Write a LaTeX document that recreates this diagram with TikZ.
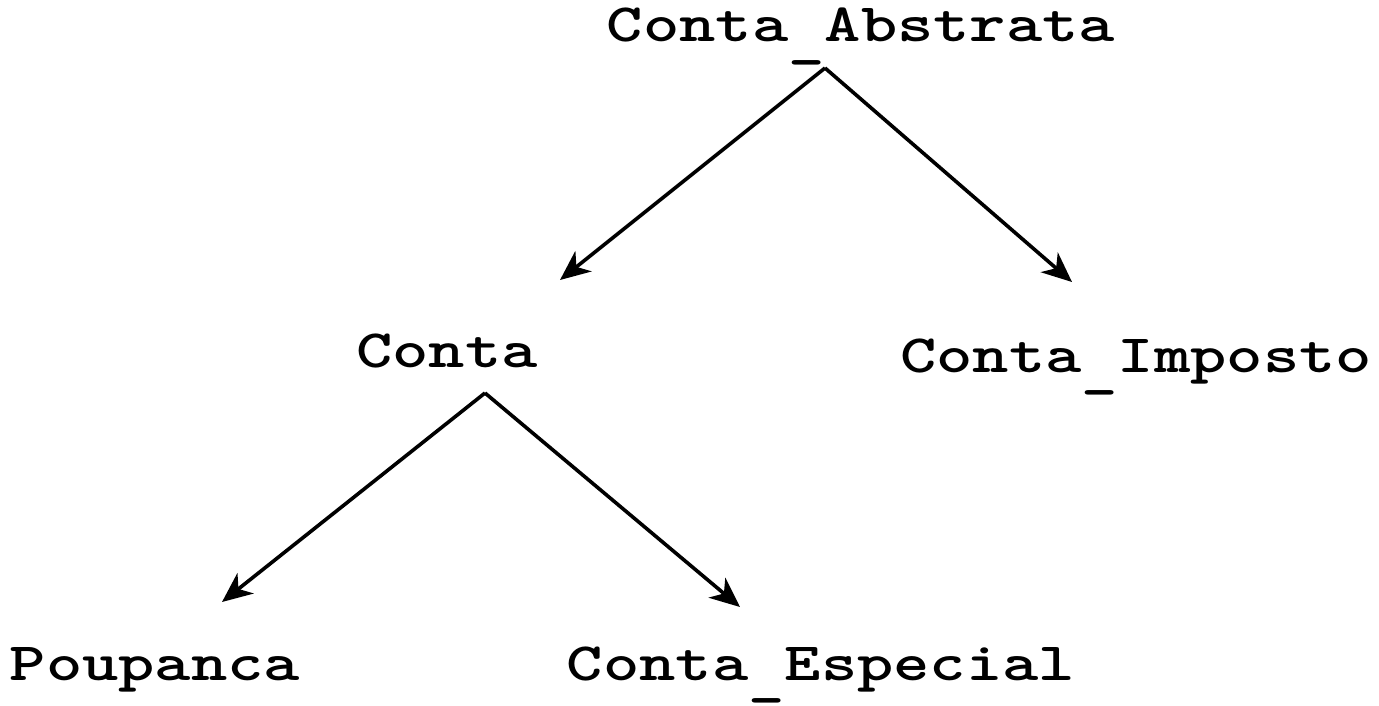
\documentclass[tikz,border=0pt]{standalone}
\usetikzlibrary{arrows.meta}
\newcommand{\clsname}[1]{\scalebox{1.28}[1]{\ttfamily\bfseries\fontsize{54}{64}\selectfont #1}}
\newcommand{\usc}{\raisebox{-0.26em}{\_}}
\tikzset{
  cls/.style={inner sep=0pt, anchor=base},
  inh/.style={line width=3.6pt, -{Stealth[length=30pt,width=26pt,inset=9pt]}}
}
\begin{document}
\begin{tikzpicture}[x=1pt,y=1pt]
\useasboundingbox (0,0) rectangle (1379,-706);
\node[cls] (A) at (861,-42) {\clsname{Conta\usc Abstrata}};
\node[cls] (B) at (447,-367) {\clsname{Conta}};
\node[cls] (C) at (1136,-372) {\clsname{Conta\usc Imposto}};
\node[cls] (D) at (155,-680) {\clsname{Poupanca}};
\node[cls] (E) at (821,-680) {\clsname{Conta\usc Especial}};
\draw[inh] ([shift={(-36,-26)}]A.base) -- ([shift={(113,87)}]B.base);
\draw[inh] ([shift={(-36,-26)}]A.base) -- ([shift={(-64,90)}]C.base);
\draw[inh] ([shift={(38,-26)}]B.base) -- ([shift={(67,78)}]D.base);
\draw[inh] ([shift={(38,-26)}]B.base) -- ([shift={(-81,73)}]E.base);
\end{tikzpicture}
\end{document}
